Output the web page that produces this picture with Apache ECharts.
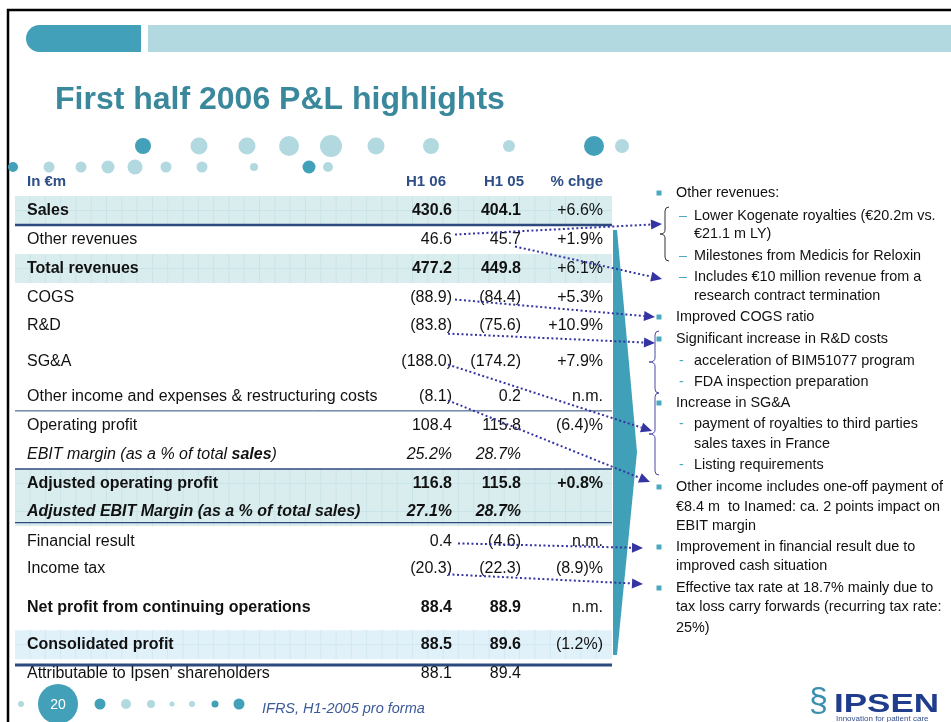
<!DOCTYPE html>
<html>
<head>
<meta charset="utf-8">
<title>First half 2006 P&amp;L highlights</title>
<script src="https://cdn.jsdelivr.net/npm/echarts@6/dist/echarts.min.js"></script>
<style>
  html, body { margin: 0; padding: 0; background: #fff; }
  #pl { width: 951px; height: 722px; }
</style>
</head>
<body>
<div id="pl"></div>
<script>
// ---- table data (in €m) ----
const headers = ['In €m', 'H1 06', 'H1 05', '% chge'];
const rowLabels = [
  'Sales',
  'Other revenues',
  'Total revenues',
  'COGS',
  'R&D',
  'SG&A',
  'Other income and expenses & restructuring costs',
  'Operating profit',
  'EBIT margin (as a % of total sales)',
  'Adjusted operating profit',
  'Adjusted EBIT Margin (as a % of total sales)',
  'Financial result',
  'Income tax',
  'Net profit from continuing operations',
  'Consolidated profit',
  'Attributable to Ipsen\u2019 shareholders'
];
const h1_06 = [430.6, 46.6, 477.2, -88.9, -83.8, -188.0, -8.1, 108.4, 25.2, 116.8, 27.1, 0.4, -20.3, 88.4, 88.5, 88.1];
const h1_05 = [404.1, 45.7, 449.8, -84.4, -75.6, -174.2, 0.2, 115.8, 28.7, 115.8, 28.7, -4.6, -22.3, 88.9, 89.6, 89.4];
const pctChange = ['+6.6%', '+1.9%', '+6.1%', '+5.3%', '+10.9%', '+7.9%', 'n.m.', '(6.4)%', '', '+0.8%', '', 'n.m.', '(8.9)%', 'n.m.', '(1.2%)', ''];

const pctRows = [8, 10];
const boldRows = [0, 2, 9, 10, 13, 14];
const italicRows = [8, 10];
const shadedRows = [0, 2, 9, 10, 14];

// comments on the right
const notes = [
  ['Other revenues:', 'sq'],
  ['Lower Kogenate royalties (\u20ac20.2m vs.', 'en'],
  ['\u20ac21.1 m LY)', 'sub'],
  ['Milestones from Medicis for Reloxin', 'en'],
  ['Includes \u20ac10 million revenue from a', 'en'],
  ['research contract termination', 'sub'],
  ['Improved COGS ratio', 'sq'],
  ['Significant increase in R&D costs', 'sq'],
  ['acceleration of BIM51077 program', 'hy'],
  ['FDA inspection preparation', 'hy'],
  ['Increase in SG&A', 'sq'],
  ['payment of royalties to third parties', 'hy'],
  ['sales taxes in France', 'sub'],
  ['Listing requirements', 'hy'],
  ['Other income includes one-off payment of', 'sq'],
  ['\u20ac8.4 m  to Inamed: ca. 2 points impact on', ''],
  ['EBIT margin', ''],
  ['Improvement in financial result due to', 'sq'],
  ['improved cash situation', ''],
  ['Effective tax rate at 18.7% mainly due to', 'sq'],
  ['tax loss carry forwards (recurring tax rate:', ''],
  ['25%)', '']
];

// ---- layout ----
const FONT = '"Liberation Sans", Arial, sans-serif';
const TEAL = '#42a0b9', PALE = '#b2d9e0', NAVY = '#2c4a7e';
const rowSlot = [1, 2, 3, 4, 4.97, 6.21, 7.41, 8.41, 9.41, 10.41, 11.38, 12.41, 13.34, 14.69, 15.97, 16.97];
const colX = [12, 437, 506, 588];
const headX = [12, 431, 509, 588];
const noteY = [193, 216, 234, 256, 277, 296, 317, 339, 361, 382, 403, 424, 444, 465, 487, 507, 526, 547, 566, 588, 607, 628];
const rules = [[0, 0, 2.5], [6, 0, 1], [8, 0, 1.5], [10, -0.12, 1.2], [14, 0.2, 3]];
const links = [
  { row: 1, col: 1, dx: 3, dy: -5, to: [662, 224] },
  { row: 1, col: 2, dx: -6, dy: 7, to: [662, 279] },
  { row: 3, col: 1, dx: 3, dy: 2, to: [655, 317] },
  { row: 4, col: 1, dx: -4, dy: 8, to: [655, 343] },
  { row: 5, col: 1, dx: -4, dy: 3, to: [652, 431] },
  { row: 6, col: 1, dx: -4, dy: 4, to: [650, 482] },
  { row: 11, col: 1, dx: 6, dy: 2, to: [643, 548] },
  { row: 12, col: 1, dx: -4, dy: 6, to: [643, 584] }
];
const topDots = [[143, 8, 1], [199, 8.5, 0], [247, 8.5, 0], [289, 10, 0], [331, 11, 0], [376, 8.5, 0], [431, 8, 0], [509, 6, 0], [594, 10, 1], [622, 7, 0]];
const midDots = [[13, 5, 1], [49, 5.5, 0], [81, 5.5, 0], [108, 6.5, 0], [135, 7.5, 0], [166, 5.5, 0], [202, 5.5, 0], [254, 4, 0], [309, 6.5, 1], [328, 5, 0]];
const footDots = [[21, 3, 0], [100, 5.5, 1], [126, 5, 0], [151, 4, 0], [172, 2.5, 0], [192, 3, 0], [215, 3.5, 1], [239, 5.5, 1]];

function cellText(r, c) {
  if (c === 0) return rowLabels[r];
  if (c === 3) return pctChange[r];
  const v = c === 1 ? h1_06[r] : h1_05[r];
  const s = Math.abs(v).toFixed(1) + (pctRows.includes(r) ? '%' : '');
  return v < 0 ? '(' + s + ')' : s;
}

const cellData = [];
headers.forEach((h, c) => cellData.push([headX[c], 0, -1, c]));
rowLabels.forEach((_, r) => {
  for (let c = 0; c < 4; c++) cellData.push([colX[c], rowSlot[r], r, c]);
});

function renderCell(params, api) {
  const r = api.value(2), c = api.value(3);
  const p = api.coord([api.value(0), api.value(1)]);
  const align = c === 0 ? 'left' : 'right';
  if (r < 0) {
    return { type: 'text', x: p[0], y: p[1], style: {
      text: headers[c], fill: '#2d4e86', fontFamily: FONT, fontSize: 15, fontWeight: 'bold',
      align: align, textAlign: align, verticalAlign: 'middle', textVerticalAlign: 'middle' } };
  }
  const bold = c === 3 ? r === 9 : boldRows.includes(r);
  const italic = c !== 3 && italicRows.includes(r);
  const style = {
    text: cellText(r, c), fill: '#111', fontFamily: FONT, fontSize: 16,
    fontWeight: bold ? 'bold' : 'normal', fontStyle: italic ? 'italic' : 'normal',
    align: align, textAlign: align, verticalAlign: 'middle', textVerticalAlign: 'middle'
  };
  if (r === 8 && c === 0) {
    style.text = '{i|EBIT margin (as a % of total }{b|sales}{i|)}';
    style.rich = {
      i: { fontFamily: FONT, fontSize: 16, fontStyle: 'italic', fill: '#111' },
      b: { fontFamily: FONT, fontSize: 16, fontStyle: 'italic', fontWeight: 'bold', fill: '#111' }
    };
  }
  return { type: 'text', x: p[0], y: p[1], style: style };
}

function renderBand(params, api) {
  const y = api.value(1), r = api.value(2);
  const a = api.coord([0, y - 0.5]), b = api.coord([597, y + 0.5]);
  const blue = r === 14;
  const kids = [{ type: 'rect', shape: { x: a[0], y: a[1], width: b[0] - a[0], height: b[1] - a[1] },
    style: { fill: blue ? '#e1f1f9' : '#d9edef' } }];
  const gl = blue ? '#d2e8f2' : '#c9e4e8';
  for (let x = a[0] + 15; x < b[0] - 2; x += 15.3) {
    kids.push({ type: 'line', shape: { x1: x, y1: a[1], x2: x, y2: b[1] }, style: { stroke: gl, lineWidth: 1 } });
  }
  for (let yy = a[1] + 14.5; yy < b[1] - 2; yy += 14.5) {
    kids.push({ type: 'line', shape: { x1: a[0], y1: yy, x2: b[0], y2: yy }, style: { stroke: gl, lineWidth: 1 } });
  }
  return { type: 'group', children: kids };
}

function renderRule(params, api) {
  const a = api.coord([0, api.value(1)]), b = api.coord([597, api.value(1)]);
  return { type: 'line', shape: { x1: a[0], y1: a[1], x2: b[0], y2: b[1] },
    style: { stroke: NAVY, lineWidth: api.value(2) } };
}

const option = {
  animation: false,
  title: {
    text: 'First half 2006 P&L highlights', left: 55, top: 84, padding: 0,
    textStyle: { fontFamily: FONT, fontSize: 32, fontWeight: 'bold', color: '#3a889b' }
  },
  grid: { left: 15, top: 167, width: 597, height: 522 },
  xAxis: { type: 'value', min: 0, max: 597, show: false },
  yAxis: { type: 'value', min: -0.5, max: 17.5, inverse: true, show: false },
  series: [
    { type: 'custom', name: 'bands', renderItem: renderBand, z: 1,
      data: shadedRows.map(r => [0, rowSlot[r], r]), encode: { x: 0, y: 1 } },
    { type: 'custom', name: 'rules', renderItem: renderRule, z: 2,
      data: rules.map(d => [0, rowSlot[d[0]] + 0.5 + d[1], d[2]]), encode: { x: 0, y: 1 } },
    { type: 'custom', name: 'cells', renderItem: renderCell, z: 3,
      data: cellData, encode: { x: 0, y: 1 } }
  ]
};

const chart = echarts.init(document.getElementById('pl'));
chart.setOption(option);

// ---- slide decoration, notes and connectors ----
const g = [];
g.push({ type: 'rect', shape: { x: 8, y: 10, width: 980, height: 760 }, style: { fill: 'none', stroke: '#000', lineWidth: 2.5 }, z: 10 });
g.push({ type: 'rect', shape: { x: 26, y: 25, width: 115, height: 27, r: [13.5, 0, 0, 13.5] }, style: { fill: TEAL } });
g.push({ type: 'rect', shape: { x: 148, y: 25, width: 820, height: 27 }, style: { fill: PALE } });
topDots.forEach(d => g.push({ type: 'circle', shape: { cx: d[0], cy: 146, r: d[1] }, style: { fill: d[2] ? TEAL : PALE } }));
midDots.forEach(d => g.push({ type: 'circle', shape: { cx: d[0], cy: 167, r: d[1] }, style: { fill: d[2] ? TEAL : PALE }, z: 12 }));
footDots.forEach(d => g.push({ type: 'circle', shape: { cx: d[0], cy: 704, r: d[1] }, style: { fill: d[2] ? TEAL : PALE } }));
g.push({ type: 'circle', shape: { cx: 58, cy: 704, r: 20 }, style: { fill: TEAL } });
g.push({ type: 'text', x: 58, y: 705, style: { text: '20', fill: '#fff', fontFamily: FONT, fontSize: 14,
  align: 'center', textAlign: 'center', verticalAlign: 'middle', textVerticalAlign: 'middle' } });
g.push({ type: 'text', x: 262, y: 709, style: { text: 'IFRS, H1-2005 pro forma', fill: '#3c5a9a', fontFamily: FONT,
  fontSize: 14.5, fontStyle: 'italic', verticalAlign: 'middle', textVerticalAlign: 'middle' } });

// big teal pointer beside the table
g.push({ type: 'polygon', shape: { points: [[613, 230], [617, 230], [637, 452], [617, 655], [613, 655]] }, style: { fill: '#40a0b8' } });

// braces, built from straight and quadratic pieces
function brace(x, y0, y1, tip, color) {
  const m = (y0 + y1) / 2, st = { fill: 'none', stroke: color, lineWidth: 1 };
  const q = (x1, y1, cx, cy, x2, y2) => ({ type: 'bezierCurve', shape: { x1: x1, y1: y1, cpx1: cx, cpy1: cy, x2: x2, y2: y2 }, style: st });
  const l = (y1, y2) => ({ type: 'line', shape: { x1: x, y1: y1, x2: x, y2: y2 }, style: st });
  return [
    q(x + 4, y0, x, y0, x, y0 + 4), l(y0 + 4, m - 4), q(x, m - 4, x, m, tip, m),
    q(tip, m, x, m, x, m + 4), l(m + 4, y1 - 4), q(x, y1 - 4, x, y1, x + 4, y1)
  ];
}
g.push(...brace(665, 207, 261, 660, '#333'));
g.push(...brace(655, 331, 393, 649, '#4a4aa8'));
g.push(...brace(655, 393, 475, 649, '#4a4aa8'));

// notes text
notes.forEach((n, i) => {
  const y = noteY[i];
  const sub = n[1] === 'en' || n[1] === 'hy' || n[1] === 'sub';
  if (n[1] === 'sq') g.push({ type: 'rect', shape: { x: 656.5, y: y - 2.5, width: 5, height: 5 }, style: { fill: '#4aa8c0' } });
  if (n[1] === 'en' || n[1] === 'hy') {
    g.push({ type: 'text', x: 679, y: y, style: { text: n[1] === 'en' ? '\u2013' : '-', fill: '#4aa8c0', fontFamily: FONT,
      fontSize: 14.3, verticalAlign: 'middle', textVerticalAlign: 'middle' } });
  }
  g.push({ type: 'text', x: sub ? 694 : 676, y: y, style: { text: n[0], fill: '#111', fontFamily: FONT,
    fontSize: 14.4, verticalAlign: 'middle', textVerticalAlign: 'middle' } });
});

// dotted connectors from table figures to the comments
links.forEach(l => {
  const p = chart.convertToPixel({ gridIndex: 0 }, [colX[l.col], rowSlot[l.row]]);
  const from = [p[0] + l.dx, p[1] + l.dy], to = l.to;
  const dx = to[0] - from[0], dy = to[1] - from[1], len = Math.hypot(dx, dy);
  const ux = dx / len, uy = dy / len, hl = 11, hw = 5;
  const base = [to[0] - ux * hl, to[1] - uy * hl];
  g.push({ type: 'line', shape: { x1: from[0], y1: from[1], x2: base[0], y2: base[1] },
    style: { stroke: '#3434a2', lineWidth: 2, lineDash: [2, 2.5] }, z: 50 });
  g.push({ type: 'polygon', shape: { points: [to, [base[0] - uy * hw, base[1] + ux * hw], [base[0] + uy * hw, base[1] - ux * hw]] },
    style: { fill: '#3434a2' }, z: 50 });
});

// logo
g.push({ type: 'text', x: 809, y: 702, style: { text: '\u00a7', fill: '#3a8fb0', fontFamily: FONT, fontSize: 34,
  verticalAlign: 'middle', textVerticalAlign: 'middle' } });
g.push({ type: 'text', x: 834, y: 705, scaleX: 1.4, style: { text: 'IPSEN', fill: '#1f3d8c',
  fontFamily: FONT, fontSize: 25, fontWeight: 'bold', verticalAlign: 'middle', textVerticalAlign: 'middle' } });
g.push({ type: 'text', x: 836, y: 719, style: { text: 'Innovation for patient care', fill: '#34508e', fontFamily: FONT,
  fontSize: 8, verticalAlign: 'middle', textVerticalAlign: 'middle' } });

chart.setOption({ graphic: g });
</script>
</body>
</html>
